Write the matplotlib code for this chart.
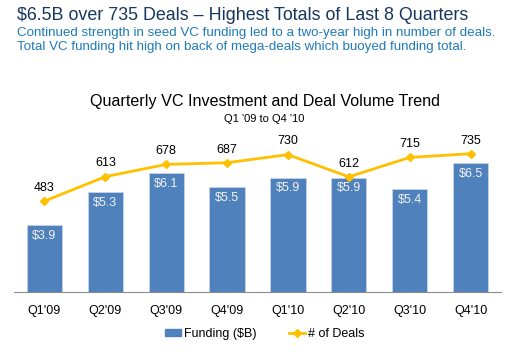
import numpy as np
import matplotlib.pyplot as plt
from matplotlib.lines import Line2D
from matplotlib.patches import Patch

plt.rcParams['font.family'] = ['Liberation Sans', 'DejaVu Sans']

quarters = ["Q1'09", "Q2'09", "Q3'09", "Q4'09", "Q1'10", "Q2'10", "Q3'10", "Q4'10"]
funding = [3.9, 5.3, 6.1, 5.5, 5.9, 5.9, 5.4, 6.5]
deals = [483, 613, 678, 687, 730, 612, 715, 735]

bar_color = '#4f81bd'
line_color = '#ffc000'

fig = plt.figure(figsize=(5.29, 3.57), dpi=100)
ax = fig.add_axes([0.0265, 0.182, 0.9205, 0.426])
x = np.arange(len(quarters))
ax.bar(x, funding, width=0.58, color=bar_color, edgecolor='#c5d4e8', linewidth=0.6)
ax.set_xlim(-0.5, 7.5)
ax.set_ylim(1.09, 7.48)
for xi, v in zip(x, funding):
    ax.text(xi, v - 0.2, f'${v}', color='#f2f2f2', ha='center', va='top', fontsize=9)

ax2 = ax.twinx()
ax2.plot(x, deals, color=line_color, lw=2, marker='D', ms=4.5)
ax2.set_ylim(0, 808)
for xi, d in zip(x, deals):
    ax2.text(xi, d + 38, str(d), ha='center', va='bottom', fontsize=9)

for a in (ax, ax2):
    for s in ('top', 'left', 'right'):
        a.spines[s].set_visible(False)
    a.set_yticks([])
ax.spines['bottom'].set_color('#8c8c8c')
ax2.spines['bottom'].set_visible(False)
ax.tick_params(axis='x', length=0, pad=9, labelsize=9)
ax.set_xticks(x)
ax.set_xticklabels(quarters)

fig.text(0.032, 0.957, '$6.5B over 735 Deals \u2013 Highest Totals of Last 8 Quarters',
         fontsize=12.9, color='#17375e', va='center')
fig.text(0.032, 0.908, 'Continued strength in seed VC funding led to a two-year high in number of deals.',
         fontsize=9.6, color='#1f7ab8', va='center')
fig.text(0.032, 0.868, 'Total VC funding hit high on back of mega-deals which buoyed funding total.',
         fontsize=9.6, color='#1f7ab8', va='center')
fig.text(0.5, 0.715, 'Quarterly VC Investment and Deal Volume Trend', fontsize=11.6, ha='center', va='center')
fig.text(0.5, 0.668, "Q1 '09 to Q4 '10", fontsize=8, ha='center', va='center')

handles = [Patch(color=bar_color, label='Funding ($B)'),
           Line2D([], [], color=line_color, lw=2, marker='D', ms=4, label='# of Deals')]
fig.legend(handles=handles, loc='center', bbox_to_anchor=(0.5, 0.064), ncol=2, frameon=False,
           fontsize=9, handlelength=1.3, handleheight=0.5, handletextpad=0.2, columnspacing=2.6)

fig.savefig('out.png', dpi=100)
